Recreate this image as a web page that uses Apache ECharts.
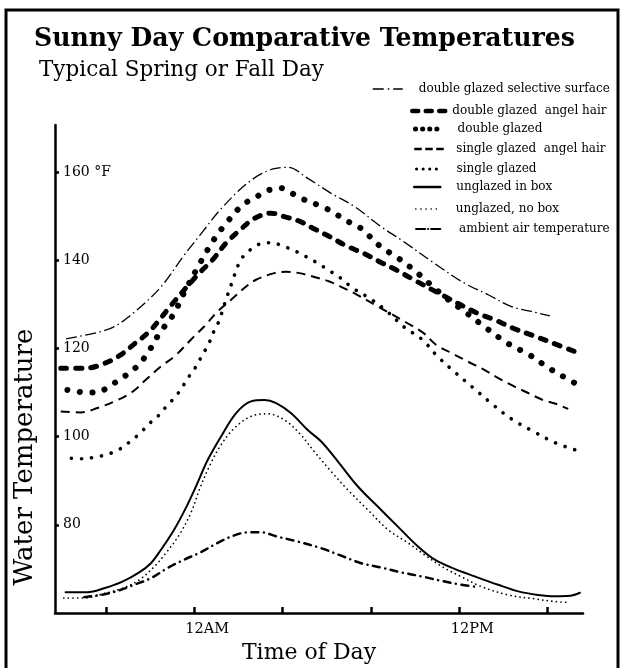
<!DOCTYPE html>
<html>
<head>
<meta charset="utf-8">
<title>Sunny Day Comparative Temperatures</title>
<script src="https://cdn.jsdelivr.net/npm/echarts@6/dist/echarts.min.js"></script>
<style>
  html, body { margin: 0; padding: 0; background: #fff; }
  #chart { width: 622px; height: 668px; }
</style>
</head>
<body>
<div id="chart"></div>
<script>
// Hours are measured from the 12AM tick; temperatures in °F.
const seriesNames = [
  'double glazed selective surface',
  'double glazed  angel hair',
  'double glazed',
  'single glazed  angel hair',
  'single glazed',
  'unglazed in box',
  'unglazed, no box',
  'ambient air temperature'
];

const doubleGlazedSelective = [
  [-5.8,122.2],[-4.5,123.5],[-3.6,125.0],[-2.6,128.7],[-1.5,134.0],[-0.45,141.2],
  [0.45,146.9],[1.06,150.8],[1.97,155.6],[2.57,158.1],[3.03,159.6],[3.63,160.8],
  [4.24,161.1],[5.14,158.6],[6.2,155.2],[7.26,152.2],[8.47,147.6],[9.38,144.6],
  [10.88,139.3],[12.24,134.8],[13.31,132.2],[14.36,129.5],[15.27,128.4],[16.1,127.4]
];

const doubleGlazedAngelHair = [
  [-6.04,115.5],[-4.98,115.5],[-4.23,116.3],[-3.4,118.3],[-2.72,121.0],[-2.04,123.8],
  [-1.51,126.9],[-1.06,129.7],[0.15,136.7],[0.83,140.1],[1.44,143.9],[2.12,147.1],
  [2.72,149.5],[3.48,150.7],[4.16,149.8],[4.76,148.9],[5.37,147.3],[6.12,145.4],
  [6.88,143.3],[7.71,141.5],[8.39,139.7],[9.15,137.8],[9.83,135.9],[11.2,132.2],
  [12.78,128.1],[13.61,126.5],[14.44,124.6],[15.35,122.9],[16.25,121.2],[17.23,119.3]
];

const doubleGlazed = [
  [-5.74,110.6],[-4.81,110.0],[-4.34,110.1],[-3.85,111.4],[-3.28,113.3],[-2.84,114.8],
  [-2.45,116.7],[-2.11,118.9],[-1.59,123.3],[-0.93,127.8],[-0.45,132.7],[0.3,139.7],
  [0.88,144.6],[1.51,148.8],[2.2,152.6],[2.72,154.1],[3.3,155.8],[3.9,156.4],
  [4.42,155.2],[4.92,153.9],[5.67,152.4],[6.28,151.0],[6.8,149.2],[7.48,147.5],
  [8.44,143.1],[9.15,140.8],[9.9,138.0],[10.63,134.8],[11.42,131.4],[12.29,128.2],
  [13.23,124.6],[14.18,121.2],[15.19,118.5],[16.07,115.5],[16.9,113.1],[17.39,111.7]
];

const singleGlazedAngelHair = [
  [-6.04,105.7],[-5.14,105.5],[-4.38,106.5],[-3.47,108.3],[-2.79,110.2],[-2.19,112.9],
  [-1.51,115.9],[-0.83,118.5],[-0.15,122.0],[0.53,125.4],[1.06,128.4],[1.66,131.0],
  [2.34,134.0],[2.8,135.6],[3.63,137.1],[4.16,137.4],[4.76,137.1],[5.52,136.1],
  [6.12,135.2],[6.65,134.0],[7.26,132.5],[8.4,129.3],[9.6,125.9],[10.36,123.6],
  [10.96,120.8],[11.72,118.8],[12.4,117.0],[13.15,115.1],[13.83,113.1],[14.44,111.5],
  [15.12,109.9],[15.8,108.3],[16.4,107.4],[16.93,106.3]
];

const singleGlazed = [
  [-5.56,95.1],[-5.06,95.0],[-4.54,95.3],[-4.0,95.9],[-3.43,97.0],[-2.92,98.8],
  [-2.45,100.8],[-2.0,103.1],[-1.59,104.9],[-1.24,107.0],[-0.88,108.9],[-0.56,111.0],
  [-0.33,113.0],[-0.03,115.0],[0.2,117.0],[0.45,119.2],[0.68,121.3],[0.91,124.1],
  [1.13,126.3],[1.4,130.5],[1.7,134.8],[2.0,139.0],[2.27,141.2],[2.69,142.9],
  [3.1,143.9],[3.58,144.0],[3.96,143.3],[4.42,142.5],[4.81,141.5],[5.47,139.7],
  [6.2,137.4],[6.65,135.9],[7.18,133.7],[7.94,131.4],[8.69,128.6],[9.52,124.8],
  [10.33,122.0],[10.96,118.5],[11.76,114.8],[12.65,111.0],[13.49,107.4],[14.37,104.0],
  [15.35,101.2],[16.4,98.5],[17.51,96.6]
];

const unglazedInBox = [
  [-5.82,64.7],[-4.83,64.7],[-4.08,65.6],[-3.25,67.1],[-2.49,69.2],[-1.96,71.3],
  [-1.51,74.3],[-0.91,78.9],[-0.38,83.8],[0.08,88.7],[0.61,94.7],[1.21,100.0],
  [1.89,105.3],[2.57,108.0],[3.18,108.3],[3.71,107.6],[4.39,105.3],[5.14,101.5],
  [5.75,98.9],[6.5,94.4],[7.41,88.7],[8.32,84.1],[9.22,79.6],[10.13,75.1],
  [10.89,72.1],[11.79,70.0],[12.7,68.3],[13.76,66.4],[14.67,64.9],[15.57,64.1],
  [16.33,63.8],[17.01,63.9],[17.46,64.6]
];

const unglazedNoBox = [
  [-5.9,63.4],[-4.99,63.4],[-4.08,64.4],[-3.25,65.6],[-2.49,67.5],[-1.81,70.5],
  [-1.28,73.6],[-0.68,77.7],[-0.15,82.7],[0.23,87.9],[0.68,93.2],[1.21,98.1],
  [1.81,101.9],[2.57,104.6],[3.33,105.2],[4.08,103.8],[4.76,100.8],[5.44,96.6],
  [6.2,92.1],[6.96,87.9],[7.86,83.4],[8.77,78.9],[9.68,75.9],[10.43,73.2],
  [11.19,70.6],[12.1,68.2],[13.0,66.0],[14.21,64.1],[15.42,63.2],[16.33,62.6],[17.01,62.4]
];

const ambientAir = [
  [-4.98,63.6],[-4.23,64.1],[-3.47,65.0],[-2.72,66.4],[-1.96,67.9],[-1.21,70.2],
  [-0.45,72.1],[0.3,73.8],[1.06,75.9],[1.81,77.6],[2.42,78.3],[3.02,78.3],
  [3.78,77.3],[4.69,76.2],[5.75,74.7],[6.65,73.0],[7.56,71.3],[8.47,70.3],
  [9.38,69.2],[10.29,68.3],[11.19,67.3],[12.1,66.4],[12.86,65.9]
];

const xTickHours = [-4, 0, 4, 8, 12, 16];
const xLabelHours = [0, 12];
const xLabelTexts = ['12AM', '12PM'];
const yTickValues = [80, 100, 120, 140, 160];
const yTickLabels = ['80', '100', '120', '140', '160 °F'];

const seriesData = [
  doubleGlazedSelective, doubleGlazedAngelHair, doubleGlazed, singleGlazedAngelHair,
  singleGlazed, unglazedInBox, unglazedNoBox, ambientAir
];

const SERIF = '"DejaVu Serif", serif';
const INK = '#000';

// Pen style for each curve: width, dash pattern, cap
const penStyles = [
  { width: 1.3, type: [11, 3.5, 1.5, 3.5], cap: 'butt' },
  { width: 5,   type: [6, 9],              cap: 'round' },
  { width: 6,   type: [0.1, 12.5],         cap: 'round' },
  { width: 2,   type: [9, 6],              cap: 'butt' },
  { width: 3.6, type: [0.1, 10],           cap: 'round' },
  { width: 2,   type: 'solid',             cap: 'round' },
  { width: 1.7, type: [0.1, 4.5],          cap: 'round' },
  { width: 2.5, type: [7, 5.5, 0.1, 5.5],  cap: 'round' }
];

// Shorter key samples drawn in the legend
const legendPens = [
  { width: 1.5, type: [11, 4, 1.5, 4],    cap: 'butt' },
  { width: 4.5, type: [6, 7.5],           cap: 'round' },
  { width: 5,   type: [0.1, 7],           cap: 'round' },
  { width: 2.5, type: [7.5, 3.5],         cap: 'butt' },
  { width: 3,   type: [0.1, 6.5],         cap: 'round' },
  { width: 2.5, type: 'solid',            cap: 'round' },
  { width: 1.6, type: [0.1, 5],           cap: 'round' },
  { width: 2.2, type: [9, 3, 0.1, 3],     cap: 'round' }
];

// Legend entries: [left, top, icon width, extra text offset]
const legendSlots = [
  [372, 83, 30, 11],
  [410, 105, 35, 0],
  [413, 123, 26, 11],
  [413, 143, 32, 5],
  [415, 163, 24, 11],
  [413, 181, 26, 11],
  [415, 203, 24, 11],
  [415, 223, 26, 12]
];

const chart = echarts.init(document.getElementById('chart'), null, { renderer: 'canvas' });

const option = {
  animation: false,
  backgroundColor: '#fff',
  textStyle: { fontFamily: SERIF, color: INK },
  title: [
    {
      text: 'Sunny Day Comparative Temperatures',
      left: 34, top: 27, padding: 0,
      textStyle: { fontFamily: SERIF, fontWeight: 'bold', fontSize: 25.2, color: INK }
    },
    {
      text: 'Typical Spring or Fall Day',
      left: 39, top: 59, padding: 0,
      textStyle: { fontFamily: SERIF, fontWeight: 'normal', fontSize: 21.5, color: INK }
    }
  ],
  legend: seriesNames.map((name, i) => ({
    data: [name],
    orient: 'vertical',
    left: legendSlots[i][0],
    top: legendSlots[i][1],
    padding: 0,
    itemWidth: legendSlots[i][2],
    itemHeight: 12,
    itemStyle: { opacity: 0 },
    lineStyle: {
      color: INK,
      width: legendPens[i].width,
      type: legendPens[i].type,
      cap: legendPens[i].cap
    },
    textStyle: {
      fontFamily: SERIF, fontSize: 12, color: INK,
      padding: [0, 0, 0, legendSlots[i][3]]
    }
  })),
  grid: { left: 55, right: 39, top: 125, bottom: 55 },
  xAxis: {
    type: 'value',
    min: -6.3,
    max: 17.6,
    splitLine: { show: false },
    axisLine: { show: true, onZero: false, lineStyle: { color: INK, width: 2.5 } },
    axisTick: {
      show: true, inside: true, length: 6,
      customValues: xTickHours,
      lineStyle: { color: INK, width: 2.5 }
    },
    axisLabel: {
      customValues: xLabelHours,
      formatter: v => xLabelTexts[xLabelHours.indexOf(v)] || '',
      fontFamily: SERIF, fontSize: 14.5, color: INK,
      margin: 9,
      padding: [0, 0, 0, 26]
    }
  },
  yAxis: {
    type: 'value',
    min: 60,
    max: 170.7,
    splitLine: { show: false },
    axisLine: { show: true, onZero: false, lineStyle: { color: INK, width: 2.5 } },
    axisTick: {
      show: true, inside: true, length: 4,
      customValues: yTickValues,
      lineStyle: { color: INK, width: 2.5 }
    },
    axisLabel: {
      inside: true,
      customValues: yTickValues,
      formatter: v => yTickLabels[yTickValues.indexOf(v)] || '',
      fontFamily: SERIF, fontSize: 14, color: INK,
      margin: 8
    }
  },
  series: seriesNames.map((name, i) => ({
    type: 'line',
    name: name,
    data: seriesData[i],
    symbol: 'none',
    smooth: 0.35,
    lineStyle: {
      color: INK,
      width: penStyles[i].width,
      type: penStyles[i].type,
      cap: penStyles[i].cap,
      join: 'round'
    },
    itemStyle: { color: INK },
    emphasis: { disabled: true }
  })),
  graphic: [
    {
      type: 'rect',
      silent: true,
      shape: { x: 6, y: 10, width: 612, height: 680 },
      style: { fill: 'none', stroke: INK, lineWidth: 3 }
    },
    {
      type: 'text',
      silent: true,
      x: 25, y: 457,
      rotation: Math.PI / 2,
      style: {
        text: 'Water Temperature',
        fontFamily: SERIF, fontSize: 26, fill: INK,
        align: 'center', verticalAlign: 'middle'
      }
    },
    {
      type: 'text',
      silent: true,
      x: 309, y: 653,
      style: {
        text: 'Time of Day',
        fontFamily: SERIF, fontSize: 22, fill: INK,
        align: 'center', verticalAlign: 'middle'
      }
    }
  ]
};

chart.setOption(option);
</script>
</body>
</html>
